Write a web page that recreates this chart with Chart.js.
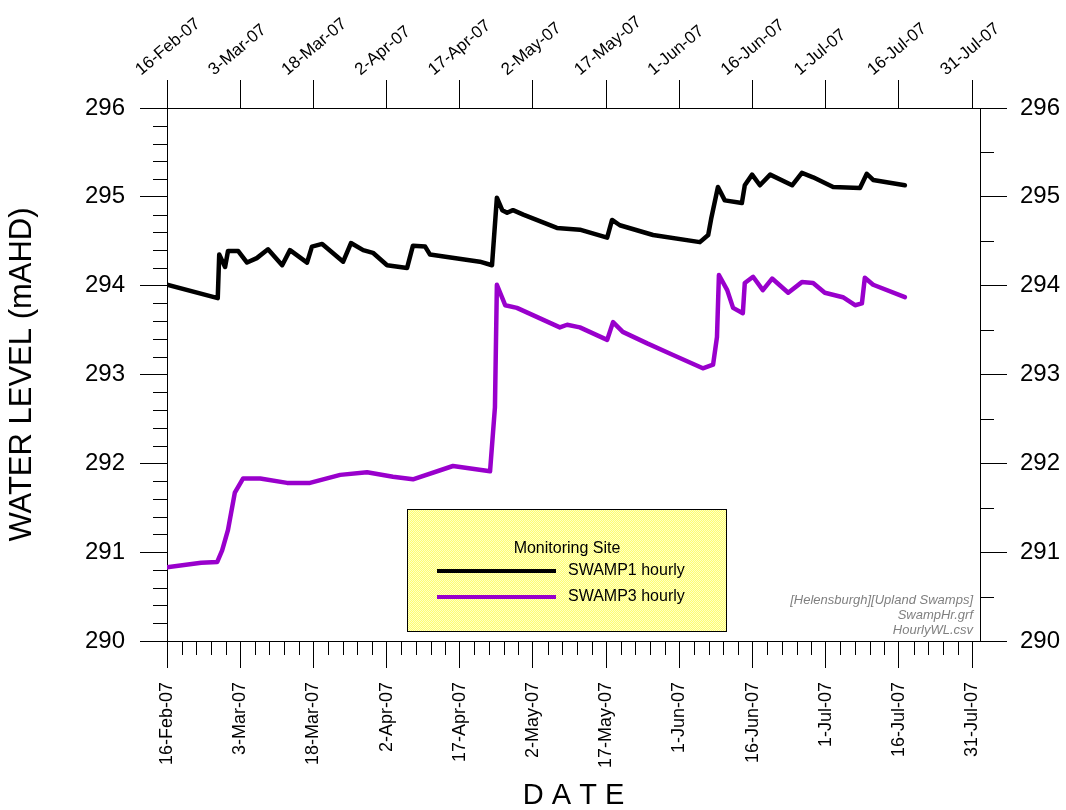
<!DOCTYPE html>
<html>
<head>
<meta charset="utf-8">
<script src="https://cdn.jsdelivr.net/npm/chart.js@4.4.0/dist/chart.umd.min.js"></script>
<style>
  html, body { margin: 0; padding: 0; background: #fff; }
</style>
</head>
<body>
<canvas id="graph" width="1066" height="810"></canvas>
<script>
// tick labels every 15 days from 16-Feb-07
const tickLabels = ['16-Feb-07', '3-Mar-07', '18-Mar-07', '2-Apr-07', '17-Apr-07', '2-May-07',
  '17-May-07', '1-Jun-07', '16-Jun-07', '1-Jul-07', '16-Jul-07', '31-Jul-07'];

// days since 16-Feb-07
const swamp1Days = [0, 10.4, 10.7, 11.9, 12.5, 14.6, 16.4, 18.4, 20.7, 23.6, 25.2, 28.7, 29.7, 31.8,
  36.1, 37.7, 40.2, 42.2, 45.1, 49.2, 50.4, 52.9, 53.9, 64.1, 66.6, 67.6, 68.7, 69.7, 70.9, 73.0,
  79.9, 84.6, 90.2, 91.2, 92.8, 99.6, 109.2, 110.9, 111.5, 112.9, 114.3, 117.8, 118.4, 119.9,
  121.5, 123.6, 128.1, 130.1, 132.4, 136.5, 142.0, 143.4, 144.7, 151.2];
const swamp1Level = [294.01, 293.86, 294.35, 294.21, 294.39, 294.39, 294.26, 294.31, 294.41, 294.23,
  294.40, 294.26, 294.44, 294.47, 294.27, 294.48, 294.40, 294.37, 294.23, 294.20, 294.45, 294.44,
  294.35, 294.27, 294.23, 294.99, 294.85, 294.82, 294.85, 294.80, 294.65, 294.63, 294.54, 294.74,
  294.68, 294.57, 294.49, 294.57, 294.75, 295.11, 294.96, 294.93, 295.13, 295.25, 295.13, 295.25,
  295.13, 295.27, 295.22, 295.11, 295.10, 295.26, 295.19, 295.13];

const swamp3Days = [0, 7.0, 10.3, 11.3, 12.5, 13.9, 15.6, 19.1, 24.6, 29.3, 35.5, 41.0, 46.3, 50.4,
  58.6, 66.2, 67.2, 67.6, 69.3, 71.7, 80.5, 82.0, 84.6, 90.2, 91.4, 93.4, 98.4, 103.7, 109.8,
  111.9, 112.7, 113.1, 114.8, 116.0, 118.0, 118.4, 120.1, 122.1, 124.0, 127.3, 130.1, 132.4,
  134.8, 138.5, 141.0, 142.4, 143.0, 144.7, 151.2];
const swamp3Level = [290.83, 290.88, 290.89, 291.02, 291.25, 291.67, 291.83, 291.83, 291.78, 291.78,
  291.87, 291.90, 291.85, 291.82, 291.97, 291.91, 292.63, 294.01, 293.78, 293.75, 293.53, 293.56,
  293.53, 293.39, 293.59, 293.48, 293.35, 293.22, 293.07, 293.11, 293.42, 294.12, 293.95, 293.75,
  293.69, 294.03, 294.10, 293.95, 294.08, 293.92, 294.04, 294.03, 293.92, 293.87, 293.78, 293.80,
  294.09, 294.01, 293.87];

const noteLines = ['[Helensburgh][Upland Swamps]', 'SwampHr.grf', 'HourlyWL.csv'];

const FONT = 'Arial, "Liberation Sans", sans-serif';
const X_MAX = 166.6;

function pts(days, vals) {
  return days.map((d, i) => ({ x: d, y: vals[i] }));
}

// yellow dotted fill for the legend box
function legendFill(ctx) {
  const c = document.createElement('canvas');
  c.width = 2; c.height = 2;
  const p = c.getContext('2d');
  p.fillStyle = '#ffff70';
  p.fillRect(0, 0, 2, 2);
  p.fillStyle = '#ffffc8';
  p.fillRect(0, 0, 1, 1);
  p.fillRect(1, 1, 1, 1);
  return ctx.createPattern(c, 'repeat');
}

const extras = {
  id: 'extras',
  afterDraw(chart) {
    const ctx = chart.ctx;
    const xs = chart.scales.x, yl = chart.scales.y, yr = chart.scales.y2;
    const a = chart.chartArea;
    ctx.save();
    ctx.strokeStyle = '#000';
    ctx.lineWidth = 1;
    ctx.beginPath();
    // minor ticks bottom, every 3 days
    for (let d = 3; d < X_MAX; d += 3) {
      if (d % 15 === 0) continue;
      const px = Math.round(xs.getPixelForValue(d)) + 0.5;
      ctx.moveTo(px, a.bottom);
      ctx.lineTo(px, a.bottom + 14);
    }
    // minor ticks left, every 0.2
    for (let i = 1; i < 30; i++) {
      if (i % 5 === 0) continue;
      const py = Math.round(yl.getPixelForValue(290 + i * 0.2)) + 0.5;
      ctx.moveTo(a.left, py);
      ctx.lineTo(a.left - 14, py);
    }
    // minor ticks right, every 0.5
    for (let i = 1; i < 12; i += 2) {
      const py = Math.round(yr.getPixelForValue(290 + i * 0.5)) + 0.5;
      ctx.moveTo(a.right, py);
      ctx.lineTo(a.right + 14, py);
    }
    ctx.stroke();

    // legend box
    const bx = 407, by = 509, bw = 319, bh = 122;
    ctx.fillStyle = legendFill(ctx);
    ctx.fillRect(bx, by, bw, bh);
    ctx.strokeRect(bx + 0.5, by + 0.5, bw, bh);
    ctx.fillStyle = '#000';
    ctx.font = '16px ' + FONT;
    ctx.textAlign = 'center';
    ctx.textBaseline = 'middle';
    ctx.fillText('Monitoring Site', 567, 549);
    ctx.textAlign = 'left';
    chart.data.datasets.forEach((ds, i) => {
      const ly = 571 + i * 26;
      ctx.strokeStyle = ds.borderColor;
      ctx.lineWidth = 4;
      ctx.beginPath();
      ctx.moveTo(437, ly);
      ctx.lineTo(556, ly);
      ctx.stroke();
      ctx.fillText(ds.label, 568, ly);
    });

    // file notes
    ctx.fillStyle = '#808080';
    ctx.font = 'italic 13px ' + FONT;
    ctx.textAlign = 'right';
    noteLines.forEach((t, i) => ctx.fillText(t, 973, 600 + i * 15));
    ctx.restore();
  }
};

const axisGrid = { drawOnChartArea: false, tickLength: 27, color: '#000', tickColor: '#000', lineWidth: 1 };
const axisBorder = { display: true, color: '#000', width: 1 };

new Chart(document.getElementById('graph').getContext('2d'), {
  type: 'line',
  data: {
    datasets: [
      { label: 'SWAMP1 hourly', data: pts(swamp1Days, swamp1Level), borderColor: '#000000',
        borderWidth: 4.5, pointRadius: 0, tension: 0, borderJoinStyle: 'round', borderCapStyle: 'round' },
      { label: 'SWAMP3 hourly', data: pts(swamp3Days, swamp3Level), borderColor: '#9900cc',
        borderWidth: 4.5, pointRadius: 0, tension: 0, borderJoinStyle: 'round', borderCapStyle: 'round' }
    ]
  },
  options: {
    responsive: false,
    animation: false,
    layout: { padding: 0 },
    plugins: { legend: { display: false }, tooltip: { enabled: false } },
    scales: {
      x: {
        type: 'linear', position: 'bottom', min: 0, max: X_MAX,
        grid: axisGrid, border: axisBorder,
        afterFit: s => { s.height = 169; },
        ticks: {
          stepSize: 15, includeBounds: false, autoSkip: false,
          minRotation: 90, maxRotation: 90, padding: 14,
          color: '#000', font: { family: FONT, size: 18 },
          callback: v => tickLabels[Math.round(v / 15)]
        },
        title: { display: true, text: 'D A T E', color: '#000',
          font: { family: FONT, size: 29, lineHeight: 1.0 }, padding: { top: 0, bottom: 0 } }
      },
      x2: {
        type: 'linear', position: 'top', min: 0, max: X_MAX,
        grid: Object.assign({}, axisGrid, { tickLength: 28 }), border: axisBorder,
        afterFit: s => { s.height = 108; },
        ticks: {
          stepSize: 15, includeBounds: false, autoSkip: false,
          minRotation: 40, maxRotation: 40, padding: 0, labelOffset: -16,
          color: '#000', font: { family: FONT, size: 17 },
          callback: v => tickLabels[Math.round(v / 15)]
        }
      },
      y: {
        type: 'linear', position: 'left', min: 290, max: 296,
        grid: axisGrid, border: axisBorder,
        afterFit: s => { s.width = 167; },
        ticks: { stepSize: 1, padding: 15, color: '#000', font: { family: FONT, size: 24 } },
        title: { display: true, text: 'WATER LEVEL (mAHD)', color: '#000',
          font: { family: FONT, size: 31 }, padding: { top: 4, bottom: 0 } }
      },
      y2: {
        type: 'linear', position: 'right', min: 290, max: 296,
        grid: axisGrid, border: axisBorder,
        afterFit: s => { s.width = 86; },
        ticks: { stepSize: 1, padding: 13, color: '#000', font: { family: FONT, size: 24 } }
      }
    }
  },
  plugins: [extras]
});
</script>
</body>
</html>
